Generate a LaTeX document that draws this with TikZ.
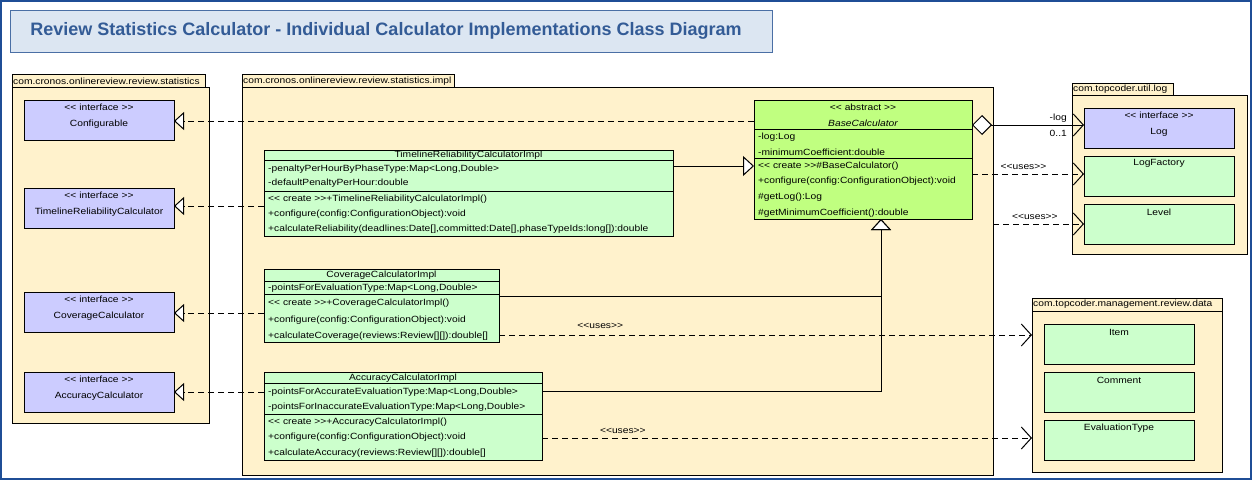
\documentclass[tikz,border=0pt]{standalone}
\usepackage{fontspec}
\setmainfont{Liberation Sans}
\newfontfamily\umlfont{Liberation Sans}[FakeStretch=1.14]
\usetikzlibrary{arrows.meta}
\definecolor{framec}{HTML}{1F4E96}
\definecolor{titlefill}{HTML}{DCE6F2}
\definecolor{titledraw}{HTML}{4A6FA5}
\definecolor{titletext}{HTML}{335B96}
\definecolor{pkgfill}{HTML}{FFF2CC}
\definecolor{ifacefill}{HTML}{CCCCFF}
\definecolor{clsfill}{HTML}{CCFFCC}
\definecolor{absfill}{HTML}{C0FF80}
\newcommand\bx[6]{\node[#2, minimum width={(#5)-(#3)}, minimum height={(#6)-(#4)}] (#1) at (#3,#4) {};}
\newcommand\dlt{<\kern0pt<}
\newcommand\dgt{>\kern0pt>}
\begin{document}
\begin{tikzpicture}[x=1pt,y=-1pt,
  boxbase/.style={draw=black, line width=1pt, inner sep=0pt, outer sep=0pt, anchor=north west},
  pkg/.style={boxbase, fill=pkgfill},
  iface/.style={boxbase, fill=ifacefill},
  cls/.style={boxbase, fill=clsfill},
  abscls/.style={boxbase, fill=absfill},
  mt/.style={anchor=west, inner sep=0pt, font=\umlfont\fontsize{9}{10}\selectfont},
  ct/.style={anchor=center, inner sep=0pt, font=\umlfont\fontsize{9}{10}\selectfont},
  sepline/.style={line width=1pt},
  conn/.style={line width=1pt},
  dsh/.style={conn, dash pattern=on 6pt off 4pt},
  realize/.style={dsh, -{Triangle[length=10pt, width=18pt, fill=white]}},
  gener/.style={conn, -{Triangle[length=11pt, width=20pt, fill=white]}},
  depend/.style={dsh, -{Straight Barb[length=10pt, width=22pt]}},
]
\useasboundingbox (0,0) rectangle (1252,480);
\fill[white] (0,0) rectangle (1252,480);
\draw[framec, line width=2pt] (1,1) rectangle (1251,479);

% title
\bx{title}{boxbase, draw=titledraw, fill=titlefill}{10}{10}{772}{52}
\node[inner sep=0pt, font=\fontsize{18}{20}\selectfont\bfseries, text=titletext] (titletxt) at (386,31) {Review Statistics Calculator - Individual Calculator Implementations Class Diagram};

% packages
\bx{lpkgtab}{pkg}{12}{74}{205}{87}
\bx{lpkg}{pkg}{12}{87}{209}{423}
\node[mt] (lpkglab) at (13,81) {com.cronos.onlinereview.review.statistics};

\bx{mpkgtab}{pkg}{242}{74}{454}{87}
\bx{mpkg}{pkg}{242}{87}{993}{475}
\node[mt] (mpkglab) at (243,81) {com.cronos.onlinereview.review.statistics.impl};

\bx{logpkgtab}{pkg}{1072}{83}{1173}{95}
\bx{logpkg}{pkg}{1072}{95}{1247}{254}
\node[mt] (logpkglab) at (1073,89) {com.topcoder.util.log};

\bx{datapkgtab}{pkg}{1032}{298}{1222}{311}
\bx{datapkg}{pkg}{1032}{311}{1222}{472}
\node[mt] (datapkglab) at (1033,304.5) {com.topcoder.management.review.data};

% interfaces
\bx{configurable}{iface}{24}{100}{174}{140}
\node[ct] at (99,107) {\dlt{} interface \dgt};
\node[ct] at (99,124) {Configurable};
\bx{trc}{iface}{24}{188}{174}{228}
\node[ct] at (99,195) {\dlt{} interface \dgt};
\node[ct] at (99,212) {TimelineReliabilityCalculator};
\bx{cc}{iface}{24}{292}{174}{332}
\node[ct] at (99,299) {\dlt{} interface \dgt};
\node[ct] at (99,316) {CoverageCalculator};
\bx{ac}{iface}{24}{372}{174}{412}
\node[ct] at (99,379) {\dlt{} interface \dgt};
\node[ct] at (99,396) {AccuracyCalculator};

% TimelineReliabilityCalculatorImpl
\bx{trci}{cls}{264}{150}{673}{236}
\draw[sepline] (264,160) -- (673,160);
\draw[sepline] (264,191) -- (673,191);
\node[ct] at (468.5,155.5) {TimelineReliabilityCalculatorImpl};
\node[mt] at (268,169.5) {-penaltyPerHourByPhaseType:Map<Long,Double>};
\node[mt] at (268,183.5) {-defaultPenaltyPerHour:double};
\node[mt] at (268,199.5) {\dlt{} create \dgt+TimelineReliabilityCalculatorImpl()};
\node[mt] at (268,214) {+configure(config:ConfigurationObject):void};
\node[mt] at (268,229.5) {+calculateReliability(deadlines:Date[],committed:Date[],phaseTypeIds:long[]):double};

% CoverageCalculatorImpl
\bx{cci}{cls}{264}{269}{499}{342}
\draw[sepline] (264,281) -- (499,281);
\draw[sepline] (264,294) -- (499,294);
\node[ct] at (381.5,275) {CoverageCalculatorImpl};
\node[mt] at (268,288) {-pointsForEvaluationType:Map<Long,Double>};
\node[mt] at (268,303.5) {\dlt{} create \dgt+CoverageCalculatorImpl()};
\node[mt] at (268,320) {+configure(config:ConfigurationObject):void};
\node[mt] at (268,336) {+calculateCoverage(reviews:Review[][]):double[]};

% AccuracyCalculatorImpl
\bx{aci}{cls}{264}{372}{542}{460}
\draw[sepline] (264,383) -- (542,383);
\draw[sepline] (264,414) -- (542,414);
\node[ct] at (403,378) {AccuracyCalculatorImpl};
\node[mt] at (268,392.5) {-pointsForAccurateEvaluationType:Map<Long,Double>};
\node[mt] at (268,407.5) {-pointsForInaccurateEvaluationType:Map<Long,Double>};
\node[mt] at (268,422.5) {\dlt{} create \dgt+AccuracyCalculatorImpl()};
\node[mt] at (268,437.5) {+configure(config:ConfigurationObject):void};
\node[mt] at (268,453) {+calculateAccuracy(reviews:Review[][]):double[]};

% BaseCalculator
\bx{base}{abscls}{754}{100}{972}{219}
\draw[sepline] (754,129) -- (972,129);
\draw[sepline] (754,158) -- (972,158);
\node[ct] at (863,107.5) {\dlt{} abstract \dgt};
\node[ct, font=\umlfont\fontsize{9}{10}\selectfont\itshape] at (863,123) {BaseCalculator};
\node[mt] at (758,137) {-log:Log};
\node[mt] at (758,152) {-minimumCoefficient:double};
\node[mt] at (758,166) {\dlt{} create \dgt\#BaseCalculator()};
\node[mt] at (758,181.5) {+configure(config:ConfigurationObject):void};
\node[mt] at (758,197.5) {\#getLog():Log};
\node[mt] at (758,213.5) {\#getMinimumCoefficient():double};

% log package classes
\bx{log}{iface}{1084}{108}{1234}{148}
\node[ct] at (1159,115) {\dlt{} interface \dgt};
\node[ct] at (1159,132) {Log};
\bx{logfactory}{cls}{1084}{156}{1234}{196}
\node[ct] at (1159,163) {LogFactory};
\bx{level}{cls}{1084}{204}{1234}{244}
\node[ct] at (1159,212) {Level};

% data package classes
\bx{item}{cls}{1044}{324}{1194}{364}
\node[ct] at (1119,332) {Item};
\bx{comment}{cls}{1044}{372}{1194}{412}
\node[ct] at (1119,380) {Comment};
\bx{evaltype}{cls}{1044}{420}{1194}{460}
\node[ct] at (1119,428) {EvaluationType};

% helper coordinates
\coordinate (y121) at (0,121);
\coordinate (y206) at (0,206);
\coordinate (y313) at (0,313);
\coordinate (y392) at (0,392);
\coordinate (y166) at (0,166);
\coordinate (y296) at (0,296);
\coordinate (y391) at (0,391);
\coordinate (gx) at (881,0);
\coordinate (y125) at (0,125);
\coordinate (y174) at (0,174);
\coordinate (y224) at (0,224);
\coordinate (y335) at (0,335);
\coordinate (y438) at (0,438);
\coordinate (pkgout) at (993,224);

% realizations
\draw[realize] (base.west |- y121) -- (configurable.east |- y121);
\draw[realize] (trci.west |- y206) -- (trc.east |- y206);
\draw[realize] (cci.west |- y313) -- (cc.east |- y313);
\draw[realize] (aci.west |- y392) -- (ac.east |- y392);

% generalizations
\draw[gener] (trci.east |- y166) -- (base.west |- y166);
\draw[gener] (cci.east |- y296) -| (base.south -| gx);
\draw[gener] (aci.east |- y391) -| (base.south -| gx);

% association with aggregation
\draw[conn, {Diamond[length=20pt, width=20pt, fill=white]}-{Straight Barb[length=10pt, width=22pt]}] (base.east |- y125) -- (log.west |- y125);
\node[mt, anchor=east] (loglab) at (1067,118) {-log};
\node[mt, anchor=east] (mult) at (1067,133) {0..1};

% dependencies
\draw[depend] (base.east |- y174) -- node[ct, pos=0.46, yshift=7pt] {\dlt uses\dgt} (logfactory.west |- y174);
\draw[depend] (pkgout) -- node[ct, pos=0.46, yshift=7pt] {\dlt uses\dgt} (level.west |- y224);
\draw[depend] (cci.east |- y335) -- node[ct, pos=0.19, yshift=9pt] {\dlt uses\dgt} (datapkg.west |- y335);
\draw[depend] (aci.east |- y438) -- node[ct, pos=0.165, yshift=7pt] {\dlt uses\dgt} (datapkg.west |- y438);
\end{tikzpicture}
\end{document}
